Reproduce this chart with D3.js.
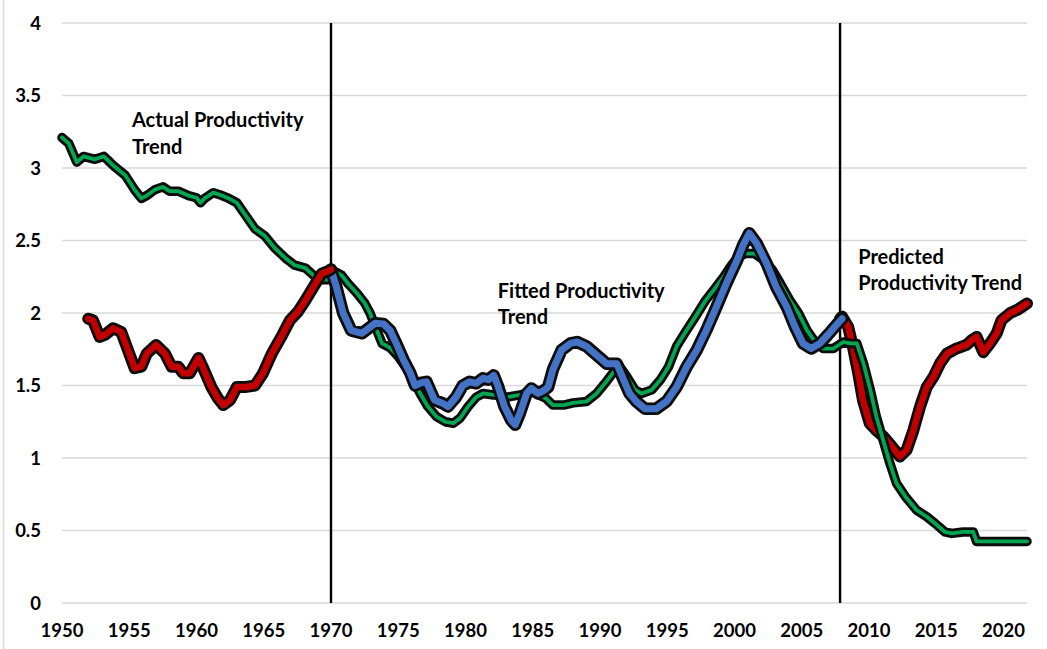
<!DOCTYPE html>
<html>
<head>
<meta charset="utf-8">
<script src="https://cdn.jsdelivr.net/npm/d3@7"></script>
<style>
  html, body { margin: 0; padding: 0; background: #fff; }
  svg { display: block; }
  text { font-family: Lato, "Liberation Sans", Arial, sans-serif; font-weight: bold; fill: #000; }
</style>
</head>
<body>
<svg id="chart" width="1047" height="649"></svg>
<script>
// ---- data ----
const yTicks = [0, 0.5, 1, 1.5, 2, 2.5, 3, 3.5, 4];
const yTickLabels = ["0", "0.5", "1", "1.5", "2", "2.5", "3", "3.5", "4"];
const xTicks = [1950, 1955, 1960, 1965, 1970, 1975, 1980, 1985, 1990, 1995, 2000, 2005, 2010, 2015, 2020];
const breakYears = [1970, 2007.85];

// Actual productivity trend (green)
const actualYears = [1950.0,1950.5,1951.1,1951.6,1952.45,1953.1,1953.4,1953.9,1954.7,1955.4,1955.9,1956.3,1956.9,1957.5,1958.0,1958.65,1959.4,1960.0,1960.3,1960.6,1961.25,1961.9,1962.4,1963.0,1963.6,1964.35,1965.1,1965.8,1966.6,1967.3,1968.1,1968.7,1969.3,1969.8,1970.3,1970.8,1971.3,1971.9,1972.5,1972.9,1973.3,1973.8,1974.4,1975.0,1975.6,1976.25,1976.6,1977.2,1977.85,1978.5,1979.1,1979.6,1980.2,1980.8,1981.3,1982.1,1983.1,1984.05,1985.0,1986.0,1986.5,1987.3,1988.0,1989.0,1989.75,1990.5,1991.4,1992.0,1992.6,1993.1,1993.85,1994.5,1995.1,1995.7,1996.3,1997.1,1997.8,1998.55,1999.2,1999.7,2000.2,2000.8,2001.5,2002.1,2002.8,2003.4,2004.1,2004.75,2005.4,2006.0,2006.6,2007.35,2008.1,2008.6,2009.1,2009.6,2010.1,2010.55,2011.05,2011.55,2012.05,2012.7,2013.55,2014.3,2014.9,2015.65,2016.15,2017.0,2017.75,2018.0,2021.75];
const actualValues = [3.21,3.17,3.04,3.08,3.06,3.08,3.055,3.01,2.95,2.85,2.79,2.81,2.85,2.87,2.84,2.84,2.81,2.795,2.76,2.79,2.83,2.81,2.79,2.76,2.68,2.58,2.53,2.45,2.38,2.33,2.31,2.26,2.23,2.23,2.285,2.26,2.20,2.14,2.07,2.0,1.905,1.79,1.76,1.70,1.62,1.515,1.45,1.355,1.285,1.25,1.24,1.275,1.355,1.42,1.445,1.435,1.42,1.435,1.455,1.41,1.365,1.365,1.38,1.39,1.445,1.53,1.64,1.56,1.47,1.445,1.47,1.54,1.63,1.77,1.86,1.975,2.08,2.17,2.25,2.32,2.38,2.41,2.41,2.37,2.30,2.205,2.09,2.0,1.88,1.80,1.755,1.755,1.80,1.79,1.79,1.65,1.47,1.285,1.125,0.965,0.825,0.735,0.64,0.595,0.55,0.49,0.48,0.49,0.49,0.425,0.425];

// Fitted productivity trend (blue)
const fittedYears = [1970.0,1970.4,1970.9,1971.5,1972.3,1972.8,1973.3,1973.9,1974.4,1974.9,1975.4,1975.9,1976.25,1976.75,1977.1,1977.7,1978.35,1978.7,1979.3,1979.8,1980.3,1980.8,1981.3,1981.7,1982.1,1982.4,1982.9,1983.4,1983.7,1984.05,1984.55,1984.9,1985.4,1985.9,1986.15,1986.5,1987.15,1987.8,1988.3,1989.0,1989.75,1990.5,1991.25,1991.75,1992.2,1992.7,1993.35,1994.2,1994.95,1995.7,1996.45,1997.2,1997.9,1998.65,1999.4,2000.2,2000.65,2001.1,2001.65,2002.4,2003.1,2003.9,2004.5,2005.1,2005.7,2006.35,2006.95,2007.7,2008.0];
const fittedValues = [2.30,2.18,2.0,1.88,1.86,1.895,1.93,1.925,1.88,1.78,1.675,1.585,1.50,1.52,1.525,1.40,1.375,1.355,1.42,1.50,1.525,1.515,1.55,1.54,1.57,1.50,1.355,1.26,1.23,1.31,1.445,1.48,1.445,1.47,1.49,1.61,1.745,1.79,1.80,1.77,1.71,1.65,1.65,1.54,1.445,1.39,1.34,1.34,1.39,1.49,1.63,1.745,1.88,2.04,2.205,2.365,2.47,2.55,2.48,2.34,2.18,2.04,1.905,1.79,1.755,1.79,1.85,1.93,1.96];

// Early fitted trend (red, 1952-1970)
const earlyYears = [1951.95,1952.3,1952.8,1953.2,1953.8,1954.4,1954.9,1955.4,1955.9,1956.3,1957.0,1957.65,1958.15,1958.65,1959.0,1959.5,1960.15,1960.5,1961.1,1961.6,1962.0,1962.5,1963.0,1963.7,1964.35,1964.95,1965.6,1966.3,1966.95,1967.55,1968.05,1968.7,1969.3,1969.8,1970.0];
const earlyValues = [1.96,1.95,1.835,1.85,1.895,1.87,1.745,1.62,1.63,1.72,1.78,1.72,1.63,1.63,1.585,1.585,1.69,1.62,1.49,1.41,1.365,1.40,1.49,1.49,1.50,1.585,1.72,1.835,1.95,2.01,2.08,2.18,2.27,2.29,2.30];

// Predicted productivity trend (red, 2008-)
const predYears = [2007.85,2008.0,2008.45,2008.8,2009.2,2009.55,2010.05,2010.55,2011.05,2011.7,2012.3,2012.8,2013.3,2013.8,2014.3,2014.8,2015.3,2015.8,2016.5,2017.25,2017.6,2018.0,2018.5,2019.0,2019.5,2019.85,2020.5,2021.0,2021.75];
const predValues = [1.96,1.975,1.905,1.77,1.585,1.40,1.24,1.19,1.15,1.08,1.01,1.055,1.19,1.355,1.49,1.56,1.655,1.72,1.755,1.78,1.81,1.835,1.73,1.79,1.86,1.95,2.0,2.02,2.065];

const labels = [
  { lines: ["Actual Productivity", "Trend"], year: 1955.2, value: 3.28 },
  { lines: ["Fitted Productivity", "Trend"], year: 1982.4, value: 2.105 },
  { lines: ["Predicted", "Productivity Trend"], year: 2009.2, value: 2.34 }
];

// ---- layout ----
const svg = d3.select("#chart");
const x = d3.scaleLinear().domain([1950, 2021.75]).range([62, 1027]);
const y = d3.scaleLinear().domain([0, 4]).range([603, 23]);

const defs = svg.append("defs");
defs.append("filter").attr("id", "soft").attr("x", "-5%").attr("y", "-5%").attr("width", "110%").attr("height", "110%")
  .append("feGaussianBlur").attr("stdDeviation", 0.7);

// left frame edge
svg.append("line").attr("x1", 3.5).attr("x2", 3.5).attr("y1", 0).attr("y2", 649)
  .attr("stroke", "#d9d9d9").attr("stroke-width", 1.5);

// gridlines
svg.append("g").selectAll("line").data(yTicks).join("line")
  .attr("x1", x.range()[0]).attr("x2", x.range()[1])
  .attr("y1", d => y(d)).attr("y2", d => y(d))
  .attr("stroke", "#d9d9d9").attr("stroke-width", 1.6);

// y labels
svg.append("g").selectAll("text").data(yTicks).join("text")
  .attr("x", 41).attr("y", d => y(d)).attr("dy", "0.36em")
  .attr("text-anchor", "end").style("font-size", "18.5px")
  .text((d, i) => yTickLabels[i]);

// x labels
svg.append("g").selectAll("text").data(xTicks).join("text")
  .attr("x", d => x(d)).attr("y", 637)
  .attr("text-anchor", "middle").style("font-size", "18.5px")
  .text(d => d);

// vertical break lines
svg.append("g").selectAll("line").data(breakYears).join("line")
  .attr("x1", d => x(d)).attr("x2", d => x(d))
  .attr("y1", y(4)).attr("y2", y(0))
  .attr("stroke", "#000").attr("stroke-width", 2.4);

const line = d3.line().x(d => x(d[0])).y(d => y(d[1])).curve(d3.curveLinear);
function series(years, values, color, outerW, innerW) {
  const pts = years.map((yr, i) => [yr, values[i]]);
  const g = svg.append("g");
  g.append("path").attr("d", line(pts)).attr("fill", "none")
    .attr("stroke", "#0a0a0a").attr("stroke-width", outerW)
    .attr("stroke-linejoin", "round").attr("stroke-linecap", "round")
    .attr("filter", "url(#soft)");
  g.append("path").attr("d", line(pts)).attr("fill", "none")
    .attr("stroke", color).attr("stroke-width", innerW)
    .attr("stroke-linejoin", "round").attr("stroke-linecap", "round");
}

series(predYears, predValues, "#C00000", 12, 6.5);
series(actualYears, actualValues, "#00A651", 9.5, 3.8);
series(fittedYears, fittedValues, "#4472C4", 12.5, 7);
series(earlyYears, earlyValues, "#C00000", 12, 6.5);

// annotations
labels.forEach(l => {
  const t = svg.append("text").attr("x", x(l.year)).attr("y", y(l.value)).style("font-size", "20px");
  l.lines.forEach((s, i) => {
    t.append("tspan").attr("x", x(l.year)).attr("dy", i === 0 ? 0 : 26.5).text(s);
  });
});
</script>
</body>
</html>
